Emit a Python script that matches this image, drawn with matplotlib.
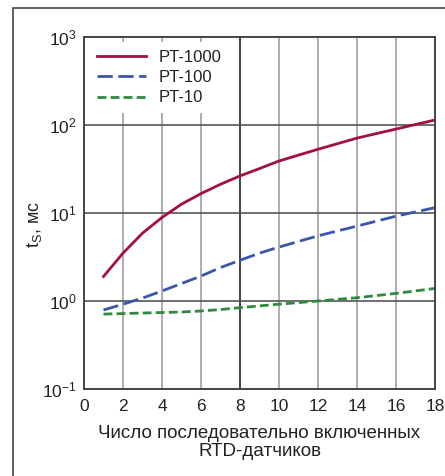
import matplotlib
matplotlib.use("Agg")
import matplotlib.pyplot as plt
from matplotlib.patches import Rectangle
from matplotlib.ticker import LogLocator, NullLocator

plt.rcParams['font.family'] = ['Liberation Sans', 'DejaVu Sans']
plt.rcParams['mathtext.fontset'] = 'custom'
plt.rcParams['mathtext.rm'] = 'Liberation Sans'
plt.rcParams['mathtext.it'] = 'Liberation Sans'
plt.rcParams['mathtext.default'] = 'regular'

# number of sensors in series
n = [1, 2, 3, 4, 5, 6, 7, 8, 9, 10, 12, 14, 16, 18]
pt1000 = [1.9, 3.5, 5.9, 8.9, 12.6, 16.6, 21.2, 26.4, 32.0, 39.0, 53.0, 71.0, 90.0, 114.0]
pt100 = [0.79, 0.92, 1.08, 1.3, 1.58, 1.92, 2.4, 2.9, 3.5, 4.1, 5.5, 7.1, 9.2, 11.5]
pt10 = [0.71, 0.72, 0.73, 0.74, 0.75, 0.77, 0.8, 0.84, 0.88, 0.92, 1.0, 1.09, 1.22, 1.39]

labels = ["PT-1000", "PT-100", "PT-10"]
colors = ["#a3103c", "#3a56a8", "#2f8a3e"]

fig = plt.figure(figsize=(4.45, 4.76), dpi=100)
ax = fig.add_axes([84 / 445, 1 - 389 / 476, (435 - 84) / 445, (389 - 37) / 476])

# outer frame of the figure
fig.patches.append(Rectangle((13 / 445, -0.1), 1.2, 1 - 8 / 476 + 0.1,
                             transform=fig.transFigure, fill=False,
                             edgecolor="#555555", linewidth=1.3))

ax.plot(n, pt1000, color=colors[0], lw=2.0, label=labels[0])
ax.plot(n, pt100, color=colors[1], lw=2.0, dashes=(5.5, 2.0), label=labels[1])
ax.plot(n, pt10, color=colors[2], lw=2.0, dashes=(3.2, 1.5), label=labels[2])

ax.set_yscale("log")
ax.set_xlim(0, 18)
ax.set_ylim(0.1, 1000)
ax.set_xticks(range(0, 19, 2))
ax.yaxis.set_major_locator(LogLocator(base=10, numticks=10))
ax.yaxis.set_minor_locator(NullLocator())
ax.tick_params(length=0, labelsize=12.5, colors="#222222", pad=5)
ax.tick_params(axis="x", pad=7)

for x in range(2, 18, 2):
    ax.axvline(x, color="#333333" if x == 8 else "#a0a0a0", lw=1.3 if x == 8 else 1.2, zorder=0.5)
for y in [1, 10, 100]:
    ax.axhline(y, color="#555555", lw=1.2, zorder=0.5)

for s in ax.spines.values():
    s.set_color("#444444")
    s.set_linewidth(1.4)

ax.set_xlabel("Число последовательно включенных\nRTD-датчиков", fontsize=13.5,
              labelpad=8, color="#222222", linespacing=1.1)
ax.set_ylabel("t$_{S}$, мс", fontsize=13, color="#222222")
ax.yaxis.set_label_coords(-0.115, 0.466)

leg = ax.legend(loc="upper left", fontsize=12, handlelength=2.95, handletextpad=0.75,
                labelspacing=0.33, borderaxespad=0.3, borderpad=0.45, fancybox=False,
                facecolor="white", edgecolor="none", framealpha=1)
leg.set_zorder(3)
for t in leg.get_texts():
    t.set_color("#222222")

fig.savefig("out.png", dpi=100)
